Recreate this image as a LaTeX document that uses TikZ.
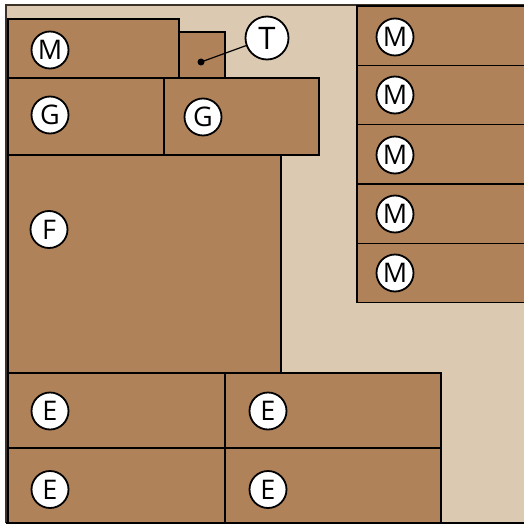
\documentclass[tikz,border=0pt]{standalone}
\usepackage{fontspec}
\setmainfont{Open Sans}
\definecolor{wood}{RGB}{175,130,90}
\definecolor{floorc}{RGB}{220,201,178}
\definecolor{edgec}{RGB}{60,50,40}
\tikzset{
  plank/.style={draw=black, fill=wood, line width=1.2pt},
  tag/.style={circle, draw=black, fill=white, line width=1.8pt, minimum size=37pt, inner sep=0pt, font=\fontsize{27}{27}\selectfont},
  bigtag/.style={tag, minimum size=43pt, font=\fontsize{31}{31}\selectfont},
}
\begin{document}
\begin{tikzpicture}[x=1pt,y=-1pt]
\useasboundingbox (0,0) rectangle (523,525);
% floor
\fill[floorc] (6,5) rectangle (525,523);
\draw[edgec, line width=1.5pt] (6,523) -- (6,5) -- (525,5);
\draw[black, line width=1.5pt] (6,523) -- (525,523);
% left stack
\draw[plank] (8,19) rectangle (179,78);
\draw[plank] (179,32) rectangle (225,78);
\draw[plank] (8,78) rectangle (164,155);
\draw[plank] (164,78) rectangle (319,155);
\draw[plank] (8,155) rectangle (281,373);
\draw[plank] (8,373) rectangle (225,448);
\draw[plank] (225,373) rectangle (441,448);
\draw[plank] (8,448) rectangle (225,523);
\draw[plank] (225,448) rectangle (441,523);
% right column
\foreach \i in {0,...,4} {
  \draw[plank] (357,{6+59.3*\i}) rectangle (530,{6+59.3*(\i+1)});
}
% tags
\node[tag] (m1) at (50,50) {M};
\node[tag] (g1) at (50,115) {G};
\node[tag] (g2) at (203,117) {G};
\node[tag] (f) at (49,229.5) {F};
\node[tag] (e1) at (50,411) {E};
\node[tag] (e2) at (268,411) {E};
\node[tag] (e3) at (50,489.5) {E};
\node[tag] (e4) at (268,489.5) {E};
\foreach \i/\y in {1/37,2/95,3/155,4/214,5/273} {
  \node[tag] (mr\i) at (395,\y) {M};
}
\node[bigtag] (t) at (267,38) {T};
\coordinate (tp) at (201,62);
\fill (tp) circle (3.5pt);
\draw[line width=1.2pt] (tp) -- (t);
\end{tikzpicture}
\end{document}
